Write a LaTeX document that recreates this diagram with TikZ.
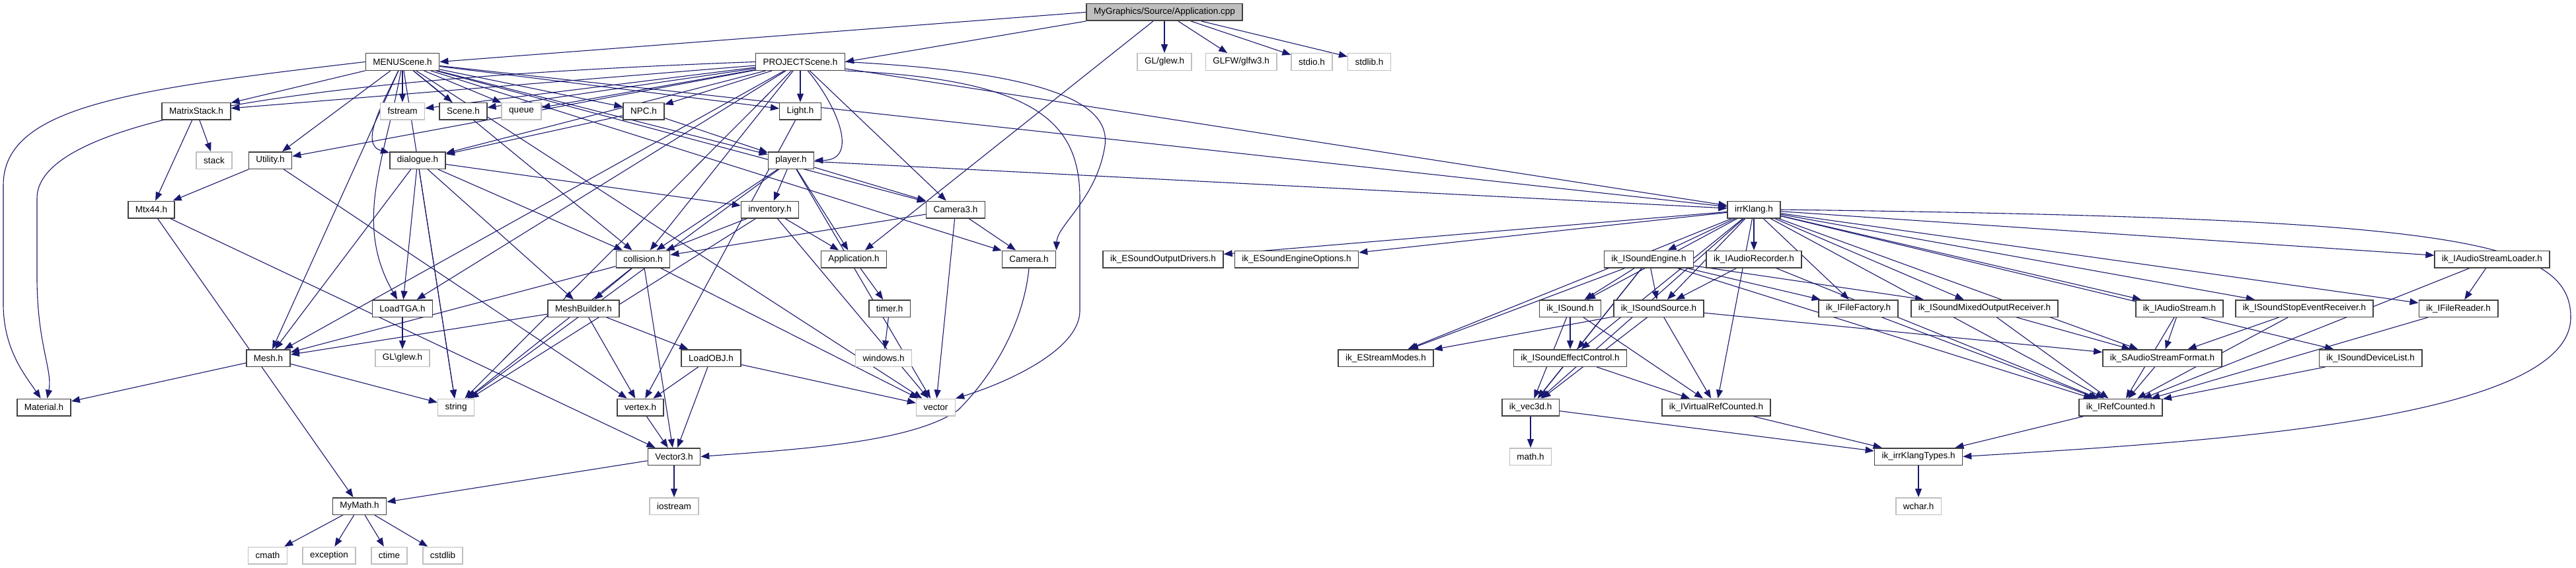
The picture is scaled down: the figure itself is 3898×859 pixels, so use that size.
\documentclass[tikz,border=0pt]{standalone}
\usepackage{fontspec}
\setmainfont{Liberation Sans}
\usetikzlibrary{arrows.meta}
\definecolor{edgecol}{HTML}{191970}
\definecolor{boxborder}{HTML}{404040}
\definecolor{extborder}{HTML}{BFBFBF}
\definecolor{rootfill}{HTML}{BFBFBF}
\pgfdeclarelayer{bgl}
\pgfdeclarelayer{edgel}
\pgfsetlayers{bgl,edgel,main}
\newcommand\nodefont{\fontsize{13.5}{15}\selectfont}
\tikzset{
  box/.style={draw=boxborder, line width=1.5pt, fill=white, minimum height=25.5pt,
              inner xsep=11pt, inner ysep=0pt, font=\nodefont},
  ext/.style={box, draw=extborder},
  root/.style={box, fill=rootfill},
  e/.style={draw=edgecol, line width=1.1pt, -{Triangle[length=13pt,width=10pt]}}
}
\begin{document}
\begin{tikzpicture}[x=1pt,y=-1pt]
\begin{pgfonlayer}{bgl}
\path[use as bounding box, fill=white] (0,0) rectangle (3898,859);
\end{pgfonlayer}
% row 0
\node[root] (cpp) at (1762,18.5) {MyGraphics/Source/Application.cpp};
% row 1
\node[box] (menu) at (609,93.5) {MENUScene.h};
\node[box] (proj) at (1211,93.5) {PROJECTScene.h};
\node[ext] (glew) at (1762,93.5) {GL/glew.h};
\node[ext] (glfw) at (1878,93.5) {GLFW/glfw3.h};
\node[ext] (stdio) at (1985,93.5) {stdio.h};
\node[ext] (stdlib) at (2072,93.5) {stdlib.h};
% row 2
\node[box] (mstack) at (297,168) {MatrixStack.h};
\node[ext] (fstream) at (609,168) {fstream};
\node[box] (scene) at (701,168) {Scene.h};
\node[ext] (queue) at (789,168) {queue};
\node[box] (npc) at (974,168) {NPC.h};
\node[box] (light) at (1211,168) {Light.h};
% row 3
\node[ext] (stack) at (324,242.5) {stack};
\node[box] (utility) at (409,242.5) {Utility.h};
\node[box] (dialogue) at (632,242.5) {dialogue.h};
\node[box] (player) at (1197,242.5) {player.h};
% row 4
\node[box] (mtx) at (229,317) {Mtx44.h};
\node[box] (inventory) at (1165,317) {inventory.h};
\node[box] (camera3) at (1446,317) {Camera3.h};
\node[box] (irrklang) at (2654,317) {irrKlang.h};
% row 5
\node[box] (collision) at (973,392) {collision.h};
\node[box] (apph) at (1292,392) {Application.h};
\node[box] (camera) at (1557,392) {Camera.h};
\node[box] (esod) at (1760,392) {ik\_ESoundOutputDrivers.h};
\node[box] (eseo) at (1962,392) {ik\_ESoundEngineOptions.h};
\node[box] (isengine) at (2495,392) {ik\_ISoundEngine.h};
\node[box] (iarec) at (2654,392) {ik\_IAudioRecorder.h};
\node[box] (iasl) at (3771,392) {ik\_IAudioStreamLoader.h};
% row 6
\node[box] (loadtga) at (609,466.5) {LoadTGA.h};
\node[box] (meshb) at (883,466.5) {MeshBuilder.h};
\node[box] (timer) at (1346,466.5) {timer.h};
\node[box] (isound) at (2376,466.5) {ik\_ISound.h};
\node[box] (issrc) at (2510,466.5) {ik\_ISoundSource.h};
\node[box] (iff) at (2812,466.5) {ik\_IFileFactory.h};
\node[box] (ismor) at (3003,466.5) {ik\_ISoundMixedOutputReceiver.h};
\node[box] (ias) at (3298,466.5) {ik\_IAudioStream.h};
\node[box] (isser) at (3487,466.5) {ik\_ISoundStopEventReceiver.h};
\node[box] (ifr) at (3720,466.5) {ik\_IFileReader.h};
% row 7
\node[box] (mesh) at (406,541.5) {Mesh.h};
\node[ext] (glew2) at (609,541.5) {GL\textbackslash glew.h};
\node[box] (loadobj) at (1076,541.5) {LoadOBJ.h};
\node[ext] (windows) at (1337,541.5) {windows.h};
\node[box] (esm) at (2097,541.5) {ik\_EStreamModes.h};
\node[box] (isec) at (2376,541.5) {ik\_ISoundEffectControl.h};
\node[box] (sasf) at (3272,541.5) {ik\_SAudioStreamFormat.h};
\node[box] (isdl) at (3587,541.5) {ik\_ISoundDeviceList.h};
% row 8
\node[box] (material) at (66.5,616) {Material.h};
\node[ext] (string) at (690,616) {string};
\node[box] (vertex) at (969,616) {vertex.h};
\node[ext] (vector) at (1416,616) {vector};
\node[box] (vec3d) at (2316,616) {ik\_vec3d.h};
\node[box] (ivrc) at (2597,616) {ik\_IVirtualRefCounted.h};
\node[box] (irc) at (3209,616) {ik\_IRefCounted.h};
% row 9
\node[box] (vector3) at (1020,690.5) {Vector3.h};
\node[ext] (mathh) at (2316,690.5) {math.h};
\node[box] (iktypes) at (2903,690.5) {ik\_irrKlangTypes.h};
% row 10
\node[box] (mymath) at (544,765.5) {MyMath.h};
\node[ext] (iostream) at (1020,765.5) {iostream};
\node[ext] (wchar) at (2903,765.5) {wchar.h};
% row 11
\node[ext] (cmath) at (405,840) {cmath};
\node[ext] (exception) at (498,840) {exception};
\node[ext] (ctime) at (589,840) {ctime};
\node[ext] (cstdlib) at (670,840) {cstdlib};

\begin{pgfonlayer}{edgel}
\foreach \s/\t in {cpp/apph, cpp/glew, cpp/glfw, cpp/stdio, cpp/stdlib,
  menu/mstack, menu/fstream, menu/scene, menu/queue, menu/npc, menu/light, menu/utility,
  menu/player, menu/camera3, menu/camera, menu/mesh, menu/collision, menu/string,
  menu/vector, menu/irrklang,
  proj/mstack, proj/fstream, proj/scene, proj/queue, proj/npc, proj/light, proj/utility,
  proj/dialogue, proj/camera3, proj/mesh, proj/loadtga, proj/collision,
  proj/string, proj/irrklang,
  mstack/mtx, mstack/stack, utility/mtx, utility/vertex, npc/dialogue, npc/player,
  dialogue/inventory, dialogue/mesh, dialogue/loadtga, dialogue/meshb, dialogue/string, dialogue/collision,
  player/inventory, player/collision, player/apph, player/camera3, player/string, player/vector, player/irrklang,
  inventory/collision, inventory/apph, inventory/string, inventory/vector,
  light/vertex, mtx/mymath, mtx/vector3, camera3/collision, camera3/camera, camera3/vector,
  collision/mesh, collision/meshb, collision/string, collision/vector, collision/vector3,
  apph/timer, timer/windows, loadtga/glew2, meshb/mesh, meshb/vertex, meshb/loadobj,
  loadobj/vertex, loadobj/vector3, loadobj/vector, mesh/material, mesh/string, vertex/vector3,
  vector3/iostream, vector3/mymath, mymath/cmath, mymath/exception, mymath/ctime, mymath/cstdlib,
  irrklang/esod, irrklang/eseo, irrklang/isengine, irrklang/iarec, irrklang/iasl, irrklang/isound,
  irrklang/issrc, irrklang/iff, irrklang/ismor, irrklang/ias, irrklang/isser, irrklang/ifr,
  irrklang/esm, irrklang/isec, irrklang/sasf, irrklang/isdl, irrklang/vec3d, irrklang/ivrc, irrklang/irc,
  isengine/isound, isengine/issrc, isengine/esm, isengine/iff, isengine/ismor, isengine/vec3d,
  isengine/isec, isengine/irc, iarec/issrc, iarec/irc,
  isound/isec, isound/vec3d, isound/ivrc, issrc/esm, issrc/vec3d, issrc/ivrc, issrc/sasf,
  isec/vec3d, isec/ivrc, vec3d/mathh, vec3d/iktypes, ivrc/iktypes, irc/iktypes,
  iff/irc, ismor/irc, ismor/sasf, ias/sasf, ias/irc, isser/sasf, isser/irc, sasf/irc,
  isdl/irc, ifr/irc, iasl/ifr, iasl/irc, iktypes/wchar}
  \draw[e] (\s) -- (\t);
% curved / routed connectors
\draw[e] (cpp.west) -- (menu.east);
\draw[e] (cpp.south west) -- (proj.east);
\draw[e] (menu.west) .. controls (200,135) and (5,160) .. (5,280) -- (5,460)
  .. controls (5,530) and (40,570) .. (material.110);
\draw[e] (proj.west) .. controls (700,110) and (56,150) .. (56,300) -- (56,420)
  .. controls (56,520) and (80,560) .. (material.70);
\draw[e] (menu) to[out=-115,in=165] (dialogue);
\draw[e] (menu) to[out=-100,in=120] (loadtga);
\draw[e] (proj) to[out=-50,in=0,looseness=1.3] (player);
\draw[e] (proj.south east) .. controls (1560,120) and (1634,180) .. (1634,300) -- (1634,470)
  .. controls (1634,530) and (1520,580) .. (vector.north east);
\draw[e] (proj.east) .. controls (1600,110) and (1680,160) .. (1672,220)
  .. controls (1660,300) and (1600,340) .. (camera.north east);
\draw[e] (camera.south) .. controls (1550,480) and (1510,560) .. (1450,620)
  .. controls (1380,670) and (1200,680) .. (vector3.east);
\draw[e] (irrklang.east) .. controls (3700,330) and (3890,360) .. (3890,480)
  .. controls (3890,640) and (3300,670) .. (iktypes.east);
\end{pgfonlayer}
\end{tikzpicture}
\end{document}
